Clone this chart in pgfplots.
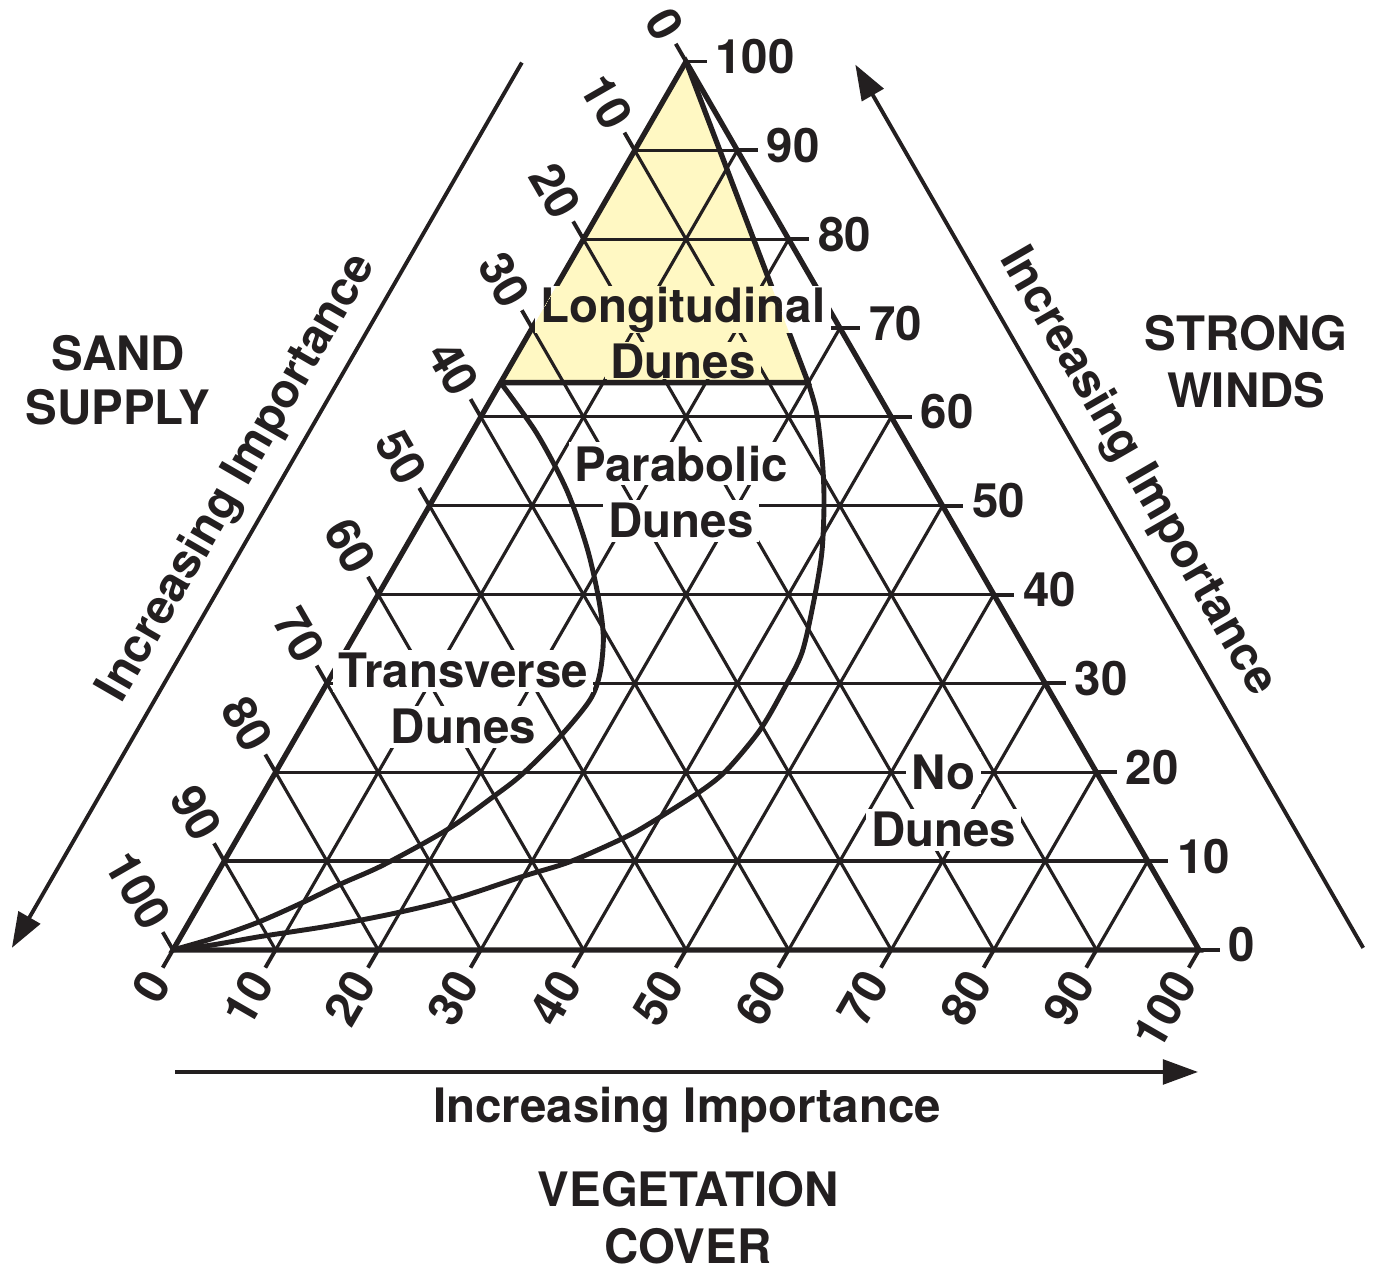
\documentclass[border=0pt]{standalone}
\usepackage{fontspec}
\setmainfont{TeX Gyre Heros}
\usepackage{pgfplots}
\pgfplotsset{compat=1.18}
\usetikzlibrary{arrows.meta}
\definecolor{ink}{RGB}{35,31,32}
\definecolor{dunefill}{RGB}{255,248,195}
\newcommand\lbl{\bfseries\fontsize{13.5}{16}\selectfont}
\tikzset{
  tl/.style={font=\lbl, text=ink, inner sep=2pt},
  rl/.style={font=\lbl, text=ink, inner xsep=1.5pt, inner ysep=1pt, anchor=base},
}
\begin{document}
\begin{tikzpicture}
\begin{axis}[
  scale only axis, width=13.75cm, height=12.71cm,
  xmin=-16.86, xmax=117.15, ymin=-31.3, ymax=92.6,
  hide axis, clip=false,
]
\path (rel axis cs:0,0) rectangle (rel axis cs:1,1);
% yellow region (Longitudinal dunes)
\addplot[fill=dunefill, draw=none] coordinates {(50,86.6) (31.93,55.3) (61.9,55.3)} -- cycle;
% grid
\pgfplotsinvokeforeach{1,...,9}{
  \draw[ink, line width=0.9pt] (axis cs:{5*#1},{8.66*#1}) -- (axis cs:{100-5*#1},{8.66*#1});
  \draw[ink, line width=0.9pt] (axis cs:{5*#1},{8.66*#1}) -- (axis cs:{10*#1},0);
  \draw[ink, line width=0.9pt] (axis cs:{10*#1},0) -- (axis cs:{50+5*#1},{86.6-8.66*#1});
}
% outline
\addplot[ink, line width=1.5pt] coordinates {(0,0) (100,0) (50,86.6)} -- cycle;
\addplot[ink, line width=1.5pt] coordinates {(31.93,55.3) (61.9,55.3) (50,86.6)};
% boundary curves
\addplot[ink, line width=1.4pt, smooth, tension=0.5] coordinates {
(31.93,55.30) (35.45,50.36) (38.37,44.83) (40.32,39.31) (41.45,34.43) (41.94,30.53)
(41.62,27.0) (40.64,24.37) (37.72,20.79) (34.0,17.1) (31.22,14.94) (26.68,11.70)
(20.50,8.28) (16.4,6.45) (12.7,4.65) (8.3,2.7) (3.8,1.1) (0,0)};
\addplot[ink, line width=1.4pt, smooth, tension=0.5] coordinates {
(61.90,55.30) (62.74,52.31) (63.30,47.5) (63.45,43.5) (63.23,38.67) (62.41,33.79)
(61.28,28.92) (59.48,25.34) (57.21,21.44) (53.97,17.54) (51.36,15.43) (46.5,12.35)
(43.9,10.9) (38.7,8.6) (34.2,7.2) (27.5,5.0) (21.5,3.55) (15.0,2.3) (8.5,1.3) (3.8,0.48) (0,0)};
% ticks and tick labels
\pgfplotsinvokeforeach{0,10,...,100}{
  \draw[ink, line width=1.1pt] (axis cs:{100-#1/2},{0.866*#1}) -- (axis cs:{102-#1/2},{0.866*#1})
     node[tl, anchor=west, yshift=1.4pt] {#1};
  \draw[ink, line width=1.1pt] (axis cs:{#1},0) -- (axis cs:{#1-1},-1.732)
     node[tl, anchor=east, rotate=60] {#1};
  \draw[ink, line width=1.1pt] (axis cs:{50-#1/2},{86.6-0.866*#1}) -- (axis cs:{49-#1/2},{88.332-0.866*#1})
     node[tl, anchor=east, rotate=-60] {#1};
}
% region labels
\node[rl, fill=white] at (axis cs:49.5,45.71) {Parabolic};
\node[rl, fill=white] at (axis cs:49.5,40.16) {Dunes};
\node[rl, fill=white] at (axis cs:28.3,25.54) {Transverse};
\node[rl, fill=white] at (axis cs:28.3,20.08) {Dunes};
\node[rl, fill=white] at (axis cs:75.1,15.59) {No};
\node[rl, fill=white] at (axis cs:75.1,10.04) {Dunes};
\node[rl, fill=white, inner ysep=0.3pt] at (axis cs:49.7,61.21) {Longitudinal};
\node[rl, fill=white, inner ysep=0.3pt] at (axis cs:49.7,55.75) {Dunes};
\coordinate (YA) at (axis cs:50,86.6);
\coordinate (YB) at (axis cs:31.93,55.3);
\coordinate (YC) at (axis cs:61.9,55.3);
\coordinate (L1) at (axis cs:49.7,61.21);
\coordinate (L2) at (axis cs:49.7,55.75);
% outer arrows
\draw[ink, line width=1.1pt, -{Triangle[length=10pt,width=7pt]}] (axis cs:34.0,86.5) -- (axis cs:-15.7,0.2);
\draw[ink, line width=1.1pt, -{Triangle[length=10pt,width=7pt]}] (axis cs:116.0,0.2) -- (axis cs:66.5,86.3);
\draw[ink, line width=1.1pt, -{Triangle[length=10pt,width=7pt]}] (axis cs:0.2,-11.9) -- (axis cs:99.9,-11.9);
% titles
\node[font=\lbl, text=ink, rotate=60] at (axis cs:6.34,46.0) {Increasing Importance};
\node[font=\lbl, text=ink, rotate=-60] at (axis cs:93.96,46.6) {Increasing Importance};
\node[font=\lbl, text=ink, anchor=base] at (axis cs:50.1,-16.86) {Increasing Importance};
\node[font=\lbl, text=ink, anchor=base] at (axis cs:-5.36,56.53) {SAND};
\node[font=\lbl, text=ink, anchor=base] at (axis cs:-5.36,51.17) {SUPPLY};
\node[font=\lbl, text=ink, anchor=base] at (axis cs:104.6,58.48) {STRONG};
\node[font=\lbl, text=ink, anchor=base] at (axis cs:104.6,52.92) {WINDS};
\node[font=\lbl, text=ink, anchor=base] at (axis cs:50.2,-25.05) {VEGETATION};
\node[font=\lbl, text=ink, anchor=base] at (axis cs:50.2,-30.6) {COVER};
\end{axis}
\begin{scope}
\clip (YA) -- (YB) -- (YC) -- cycle;
\node[rl, inner ysep=0.3pt, fill=dunefill] at (L1) {Longitudinal};
\node[rl, inner ysep=0.3pt, fill=dunefill] at (L2) {Dunes};
\end{scope}
\pgfresetboundingbox
\path[use as bounding box] (current axis.south west) rectangle (current axis.north east);
\end{tikzpicture}
\end{document}
